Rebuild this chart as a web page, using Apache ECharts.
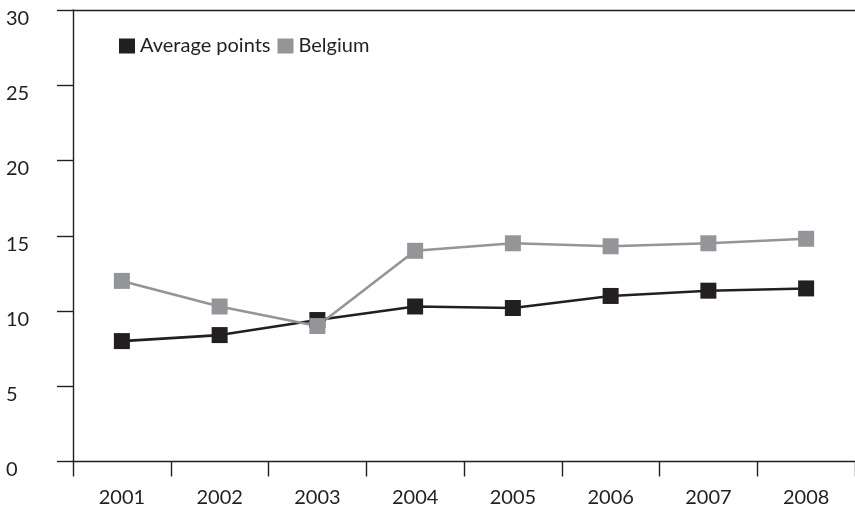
<!DOCTYPE html>
<html>
<head>
<meta charset="utf-8">
<script src="https://cdn.jsdelivr.net/npm/echarts@6/dist/echarts.min.js"></script>
<style>
html,body{margin:0;padding:0;background:#fff;}
#chart{width:855px;height:508px;}
</style>
</head>
<body>
<div id="chart"></div>
<script>
const years = ['2001', '2002', '2003', '2004', '2005', '2006', '2007', '2008'];
const averagePoints = [8.0, 8.4, 9.4, 10.3, 10.2, 11.0, 11.35, 11.5];
const belgium = [12.0, 10.3, 9.0, 14.0, 14.5, 14.3, 14.5, 14.8];
const seriesNames = ['Average points', 'Belgium'];

const FONT = 'Lato';
const AXIS = '#231f20';

const chart = echarts.init(document.getElementById('chart'), null, {renderer: 'canvas'});
chart.setOption({
  animation: false,
  backgroundColor: '#ffffff',
  textStyle: {fontFamily: FONT},
  legend: {
    left: 114,
    top: 31,
    itemWidth: 16,
    itemHeight: 15,
    itemGap: 7,
    icon: 'rect',
    textStyle: {fontFamily: FONT, fontSize: 20, color: AXIS, lineHeight: 15},
    data: seriesNames
  },
  grid: {left: 73, right: -6, top: 10, bottom: 46, containLabel: false},
  xAxis: [{
    type: 'category',
    data: years,
    position: 'bottom',
    boundaryGap: true,
    axisLine: {show: true, lineStyle: {color: AXIS, width: 1.4}},
    axisTick: {show: true, length: 15, inside: false, lineStyle: {color: AXIS, width: 1.4}},
    axisLabel: {fontFamily: FONT, fontSize: 20, color: AXIS, margin: 28, verticalAlign: 'top', lineHeight: 17}
  }, {
    type: 'category',
    data: years,
    position: 'top',
    axisLine: {show: true, lineStyle: {color: AXIS, width: 1.4}},
    axisTick: {show: false},
    axisLabel: {show: false}
  }],
  yAxis: {
    type: 'value',
    min: 0,
    max: 30,
    interval: 5,
    splitLine: {show: false},
    axisLine: {show: true, lineStyle: {color: AXIS, width: 1.4}},
    axisTick: {show: true, length: 16, inside: false, lineStyle: {color: AXIS, width: 1.4}},
    axisLabel: {fontFamily: FONT, fontSize: 20, color: AXIS, align: 'left', margin: 67, verticalAlign: 'top', lineHeight: 17}
  },
  series: [{
    name: seriesNames[0],
    type: 'line',
    data: averagePoints,
    symbol: 'rect',
    symbolSize: 16,
    color: '#231f20',
    itemStyle: {color: '#231f20'},
    lineStyle: {color: '#231f20', width: 2.6}
  }, {
    name: seriesNames[1],
    type: 'line',
    data: belgium,
    symbol: 'rect',
    symbolSize: 16,
    color: '#939598',
    itemStyle: {color: '#939598'},
    lineStyle: {color: '#939598', width: 2.6}
  }]
});
</script>
</body>
</html>
